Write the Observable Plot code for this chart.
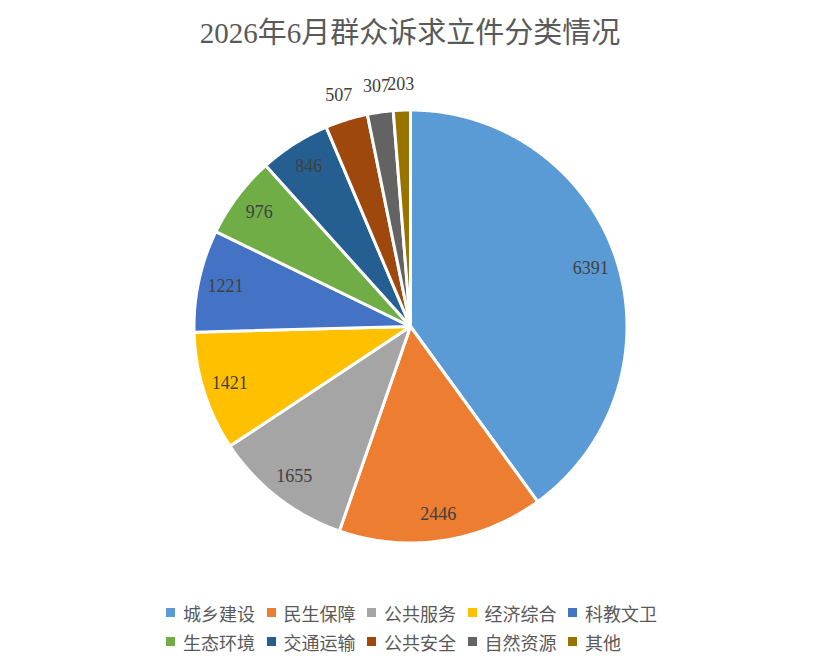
<!DOCTYPE html>
<html>
<head>
<meta charset="utf-8">
<script src="https://cdn.jsdelivr.net/npm/d3@7"></script>
<script src="https://cdn.jsdelivr.net/npm/@observablehq/plot@0.6"></script>
<style>
  body { margin: 0; background: #fff; width: 820px; height: 672px; overflow: hidden; position: relative; }
  #title { position: absolute; left: 0; top: 14px; width: 820px; text-align: center; font-family: "Liberation Serif", "Noto Sans CJK SC", serif; font-size: 29px; color: #595959; line-height: 38px; }
  #chart { position: absolute; left: 0; top: 68px; }
  #legend { position: absolute; left: 166px; top: 600px; display: grid; grid-template-columns: repeat(5, 100.5px); row-gap: 4px; font-family: "Liberation Serif", "Noto Sans CJK SC", serif; font-size: 18px; color: #595959; }
  .item { display: flex; align-items: center; height: 25px; white-space: nowrap; }
  .sw { width: 9px; height: 9px; margin-right: 8px; flex: none; }
</style>
</head>
<body>
<div id="title"></div>
<div id="chart"></div>
<div id="legend"></div>
<script>
const title = "2026年6月群众诉求立件分类情况";
const categories = ["城乡建设", "民生保障", "公共服务", "经济综合", "科教文卫", "生态环境", "交通运输", "公共安全", "自然资源", "其他"];
const values = [6391, 2446, 1655, 1421, 1221, 976, 846, 507, 307, 203];
const colors = ["#5B9BD5", "#ED7D31", "#A5A5A5", "#FFC000", "#4472C4", "#70AD47", "#255E91", "#9E480E", "#636363", "#997300"];

document.getElementById("title").textContent = title;

const data = categories.map((name, i) => ({name, value: values[i]}));
const total = d3.sum(values);
const arcs = d3.pie().sort(null).value(d => d.value)(data);

// polygon points for each slice (unit radius, y up)
const pts = [];
for (const a of arcs) {
  pts.push({name: a.data.name, x: 0, y: 0});
  const n = Math.max(4, Math.ceil((a.endAngle - a.startAngle) / (Math.PI / 360)));
  for (let k = 0; k <= n; k++) {
    const t = a.startAngle + (a.endAngle - a.startAngle) * k / n;
    pts.push({name: a.data.name, x: Math.sin(t), y: Math.cos(t)});
  }
}

const labels = arcs.map(a => {
  const m = (a.startAngle + a.endAngle) / 2;
  const share = a.data.value / total;
  const r = share < 0.04 ? 1.12 : 0.875;
  return {name: a.data.name, value: a.data.value, x: Math.sin(m) * r, y: Math.cos(m) * r};
});

const R = 216.5, W = 820, H = 520, cx = 410, cy = 258;
const plot = Plot.plot({
  width: W, height: H,
  margin: 0,
  x: {domain: [-cx / R, (W - cx) / R], range: [0, W], axis: null},
  y: {domain: [-(H - cy) / R, cy / R], range: [H, 0], axis: null},
  color: {domain: categories, range: colors},
  style: {background: "transparent"},
  marks: [
    Plot.line(pts, {x: "x", y: "y", z: "name", fill: "name", stroke: "white", strokeWidth: 3, strokeLinejoin: "round", curve: "linear-closed"}),
    Plot.text(labels, {x: "x", y: "y", text: d => String(d.value), fill: "#404040", fontSize: 18, fontFamily: "Liberation Serif, serif"})
  ]
});
document.getElementById("chart").appendChild(plot);

const leg = document.getElementById("legend");
categories.forEach((c, i) => {
  const it = document.createElement("div");
  it.className = "item";
  const sw = document.createElement("span");
  sw.className = "sw";
  sw.style.background = colors[i];
  const tx = document.createElement("span");
  tx.textContent = c;
  it.appendChild(sw); it.appendChild(tx);
  leg.appendChild(it);
});
</script>
</body>
</html>
